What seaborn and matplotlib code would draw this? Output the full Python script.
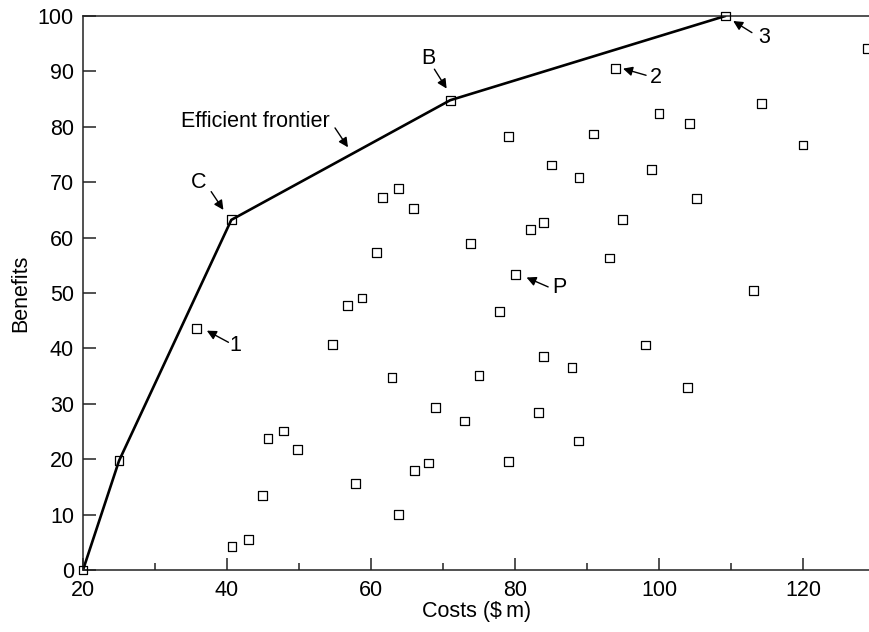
import numpy as np
import pandas as pd
import matplotlib
matplotlib.use('Agg')
import matplotlib.pyplot as plt
import seaborn as sns
from matplotlib.ticker import MultipleLocator

# Projetos: custo ($m) e benefício
costs = [20, 25, 35.8, 40.6, 71.0, 109.2, 94.0, 129.0, 114.2, 100.0,
         104.2, 90.9, 79.1, 120.0, 85.1, 99.0, 88.9, 63.8, 61.6, 105.2,
         65.9, 94.9, 84.0, 82.1, 73.8, 60.8, 93.1, 80.1, 113.1, 58.75,
         56.7, 77.8, 54.7, 98.1, 84.0, 87.9, 75.0, 62.9, 104.0, 69.0,
         83.3, 73.0, 47.8, 45.7, 88.8, 49.8, 79.1, 68.0, 66.0, 57.8,
         44.9, 63.8, 43.0, 40.7]
benefits = [0, 19.7, 43.6, 63.2, 84.8, 100, 90.5, 94.1, 84.2, 82.4,
            80.6, 78.7, 78.3, 76.7, 73.1, 72.3, 70.9, 68.8, 67.3, 67.0,
            65.2, 63.3, 62.7, 61.4, 59.0, 57.3, 56.3, 53.3, 50.5, 49.1,
            47.8, 46.6, 40.7, 40.6, 38.6, 36.6, 35.1, 34.8, 32.9, 29.3,
            28.5, 26.9, 25.1, 23.7, 23.3, 21.7, 19.6, 19.3, 18.0, 15.6,
            13.5, 10.0, 5.5, 4.2]

# Fronteira eficiente
frontier_costs = [20, 25, 40.6, 71.0, 109.2]
frontier_benefits = [0, 19.7, 63.2, 84.8, 100]

df = pd.DataFrame({'cost': costs, 'benefit': benefits})
df_front = pd.DataFrame({'cost': frontier_costs, 'benefit': frontier_benefits})

sns.set_theme(style='ticks')
plt.rcParams['font.family'] = ['Liberation Sans', 'DejaVu Sans']
FS = 15.5

fig = plt.figure(figsize=(8.7, 6.32), dpi=100)
ax = fig.add_axes([83 / 870, 62 / 632, 787 / 870, 554 / 632])

sns.lineplot(data=df_front, x='cost', y='benefit', sort=False, color='black',
             linewidth=1.9, ax=ax, zorder=2)
sns.scatterplot(data=df, x='cost', y='benefit', marker='s', s=40,
                facecolor='none', edgecolor='black', linewidth=0.9, ax=ax,
                zorder=3, clip_on=False)

ax.set_xlim(20, 129.3)
ax.set_ylim(0, 100)
ax.xaxis.set_major_locator(MultipleLocator(20))
ax.xaxis.set_minor_locator(MultipleLocator(10))
ax.yaxis.set_major_locator(MultipleLocator(10))

for s in ['left', 'bottom', 'top']:
    ax.spines[s].set_linewidth(1.1)
    ax.spines[s].set_color('#222222')
ax.spines['right'].set_visible(False)

ax.tick_params(axis='both', which='major', direction='in', length=9, width=1.1,
               color='#222222', labelsize=FS, labelcolor='black')
ax.tick_params(axis='y', which='major', pad=6.5)
ax.tick_params(axis='x', which='major', pad=7)
ax.tick_params(axis='x', which='minor', direction='in', length=5, width=1.1,
               color='#222222')

ax.set_xlabel('Costs ($\u2009m)', fontsize=FS, labelpad=0, color='black')
ax.set_ylabel('Benefits', fontsize=FS, labelpad=5, color='black')

# Rótulos com setas
labels = [
    ('Efficient frontier', (44.0, 81.0), (55.0, 79.8), (56.8, 76.3)),
    ('C', (36.1, 69.9), (37.8, 68.3), (39.5, 65.0)),
    ('B', (67.9, 92.3), (68.8, 90.4), (70.5, 86.9)),
    ('3', (114.6, 96.1), (112.9, 97.0), (110.3, 99.1)),
    ('2', (99.6, 88.9), (98.2, 89.3), (95.0, 90.5)),
    ('P', (86.2, 51.0), (84.6, 51.1), (81.6, 52.8)),
    ('1', (41.2, 40.6), (40.2, 41.1), (37.2, 43.2)),
]
for txt, pos, tail, head in labels:
    ax.text(pos[0], pos[1], txt, fontsize=FS, ha='center', va='center',
            color='black')
    ax.annotate('', xy=head, xytext=tail,
                arrowprops=dict(arrowstyle='-|>', color='black', lw=1.0,
                                mutation_scale=14, shrinkA=0, shrinkB=0))

fig.savefig('out.png', dpi=100)
